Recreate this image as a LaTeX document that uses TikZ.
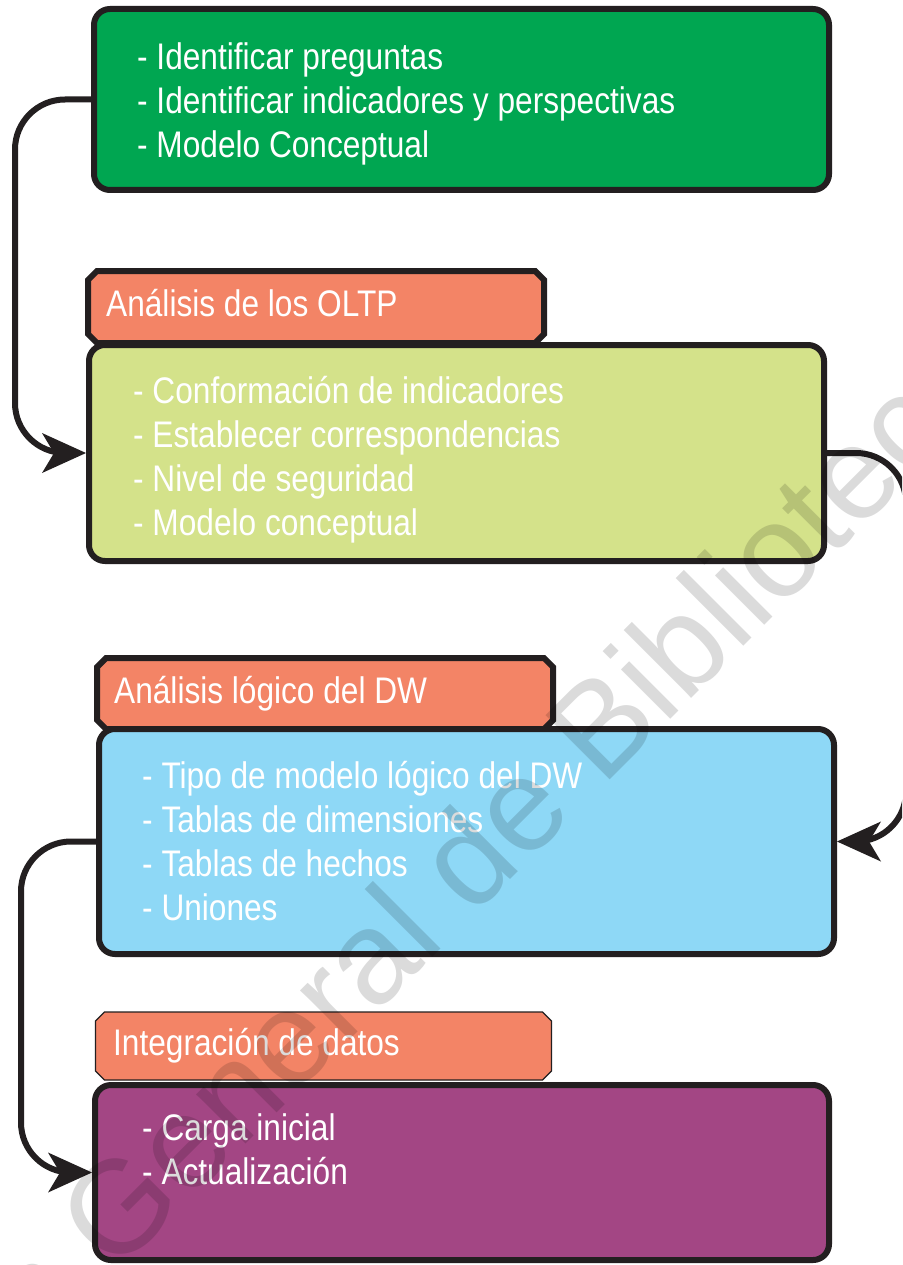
\documentclass[tikz,border=0pt]{standalone}
\usepackage{fontspec}
\newfontfamily\narrowsans{Liberation Sans}[FakeStretch=0.855]
\newfontfamily\markfont{Liberation Sans}
\usetikzlibrary{arrows.meta}

\definecolor{edge}{RGB}{35,31,32}
\definecolor{boxgreen}{RGB}{0,166,81}
\definecolor{tabsalmon}{RGB}{243,132,102}
\definecolor{boxlime}{RGB}{212,226,138}
\definecolor{boxsky}{RGB}{142,216,246}
\definecolor{boxplum}{RGB}{163,70,132}

% chamfered heading tab drawn around a placeholder node
\newcommand\tabframe[3]{%
  \draw[#2] ([xshift=#3]#1.north west) -- ([xshift=-#3]#1.north east)
    -- ([yshift=-#3]#1.north east) -- ([yshift=#3]#1.south east)
    -- ([xshift=-#3]#1.south east) -- ([xshift=#3]#1.south west)
    -- ([yshift=#3]#1.south west) -- ([yshift=-#3]#1.north west) -- cycle;}

\tikzset{
  panel/.style={draw=edge, line width=6pt, rounded corners=16pt, inner sep=0pt},
  tabslot/.style={inner sep=0pt, outer sep=0pt},
  tabthick/.style={draw=edge, fill=tabsalmon, line width=6pt, line join=miter},
  tabthin/.style={draw=edge, fill=tabsalmon, line width=1.2pt, line join=miter},
  words/.style={text=white, font=\narrowsans\fontsize{37}{44}\selectfont,
    inner sep=0pt, anchor=base west},
  link/.style={draw=edge, line width=6pt, rounded corners=50pt,
    -{Stealth[length=44pt,width=40pt,inset=12pt,line width=0pt]}},
  wmtext/.style={font=\markfont\fontsize{132}{132}\selectfont, text=black,
    text opacity=0.14, inner sep=0pt}
}

\begin{document}
\begin{tikzpicture}[x=1pt, y=-1pt]
\useasboundingbox (0,0) rectangle (902,1265);
\fill[white] (0,0) rectangle (902,1265);
\clip (0,0) rectangle (902,1265);

% heading tabs (drawn first, panels overlap their lower edge)
\node[tabslot, minimum width=456pt, minimum height=72pt] (h1) at (316,307) {};
\tabframe{h1}{tabthick}{9pt}
\node[tabslot, minimum width=456pt, minimum height=71pt] (h2) at (325,693.5) {};
\tabframe{h2}{tabthick}{9pt}
\node[tabslot, minimum width=456pt, minimum height=68pt] (h3) at (323.5,1046) {};
\tabframe{h3}{tabthin}{9pt}

% panels
\node[panel, fill=boxgreen, minimum width=735pt, minimum height=181pt] (b1) at (461.5,99.5) {};
\node[panel, fill=boxlime, minimum width=735pt, minimum height=216pt] (b2) at (456.5,453) {};
\node[panel, fill=boxsky, minimum width=735pt, minimum height=225pt] (b4) at (466.5,841.5) {};
\node[panel, fill=boxplum, minimum width=734pt, minimum height=175pt] (b6) at (462,1172.5) {};

% texts
\node[words] (t1) at (137,70) {\vtop{\hbox{- Identificar preguntas}\hbox{- Identificar indicadores y perspectivas}\hbox{- Modelo Conceptual}}};
\node[words] (th1) at (106,316) {Análisis de los OLTP};
\node[words] (t2) at (133,403) {\vtop{\hbox{- Conformación de indicadores}\hbox{- Establecer correspondencias}\hbox{- Nivel de seguridad}\hbox{- Modelo conceptual}}};
\node[words] (th2) at (114,703) {Análisis lógico del DW};
\node[words] (t4) at (142,788) {\vtop{\hbox{- Tipo de modelo lógico del DW}\hbox{- Tablas de dimensiones}\hbox{- Tablas de hechos}\hbox{- Uniones}}};
\node[words] (th3) at (113,1055) {Integración de datos};
\node[words] (t6) at (142,1140) {\vtop{\hbox{- Carga inicial}\hbox{- Actualización}}};

% connectors
\draw[link] (b1.west) -- (15,99.5) -- (15,453) -- (b2.west);
\draw[link] (b2.east) -- (906,453) -- (906,841.5) -- (b4.east);
\draw[link] (b4.west) -- (21,841.5) -- (21,1172.5) -- (b6.west);

% diagonal stamp across the sheet
\node[wmtext, rotate=45, anchor=base west] (wm) at (-300,1690) {Dirección General de Bibliotecas};
\end{tikzpicture}
\end{document}
